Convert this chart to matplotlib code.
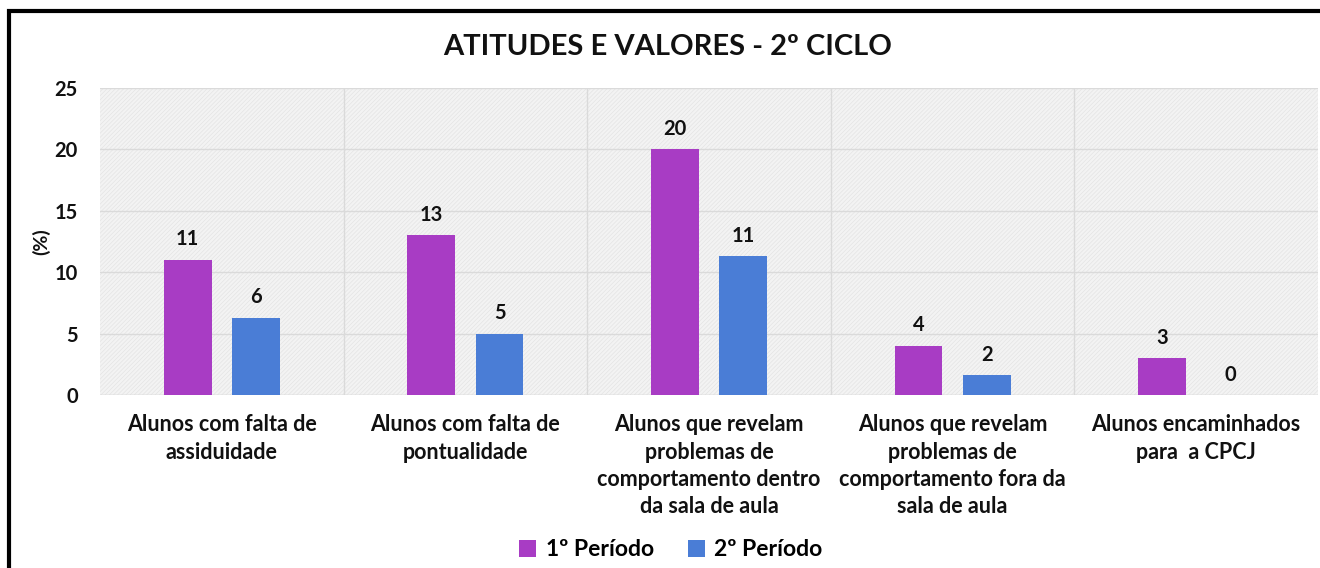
import matplotlib
matplotlib.use("Agg")
import matplotlib.pyplot as plt
from matplotlib.patches import Rectangle
import numpy as np

categories = [
    "Alunos com falta de\nassiduidade",
    "Alunos com falta de\npontualidade",
    "Alunos que revelam\nproblemas de\ncomportamento dentro\nda sala de aula",
    "Alunos que revelam\nproblemas de\ncomportamento fora da\nsala de aula",
    "Alunos encaminhados\npara  a CPCJ",
]
periodo1 = [11, 13, 20, 4, 3]
periodo2 = [6.3, 5, 11.3, 1.6, 0]
labels1 = ["11", "13", "20", "4", "3"]
labels2 = ["6", "5", "11", "2", "0"]
series_names = ["1º Período", "2º Período"]
yticks = [0, 5, 10, 15, 20, 25]

c1 = "#A83CC4"
c2 = "#4A7DD6"
FONT = "Lato"
TXT = "#111111"

plt.rcParams['font.family'] = [FONT, 'DejaVu Sans']
plt.rcParams['hatch.linewidth'] = 0.5
fig = plt.figure(figsize=(13.2, 5.68), dpi=100)
ax = fig.add_axes([100/1320, 1-395/568, (1318-100)/1320, (395-88)/568])

# figure border
fig.patches.append(Rectangle((9/1320, -0.05), 1.2, 1-11/568+0.05, transform=fig.transFigure,
                             fill=False, edgecolor="black", linewidth=3, zorder=10))

ax.set_facecolor("#F3F3F3")
ax.add_patch(Rectangle((0, 0), 1, 1, transform=ax.transAxes, facecolor="none",
                       edgecolor="#E4E4E4", hatch="////////", linewidth=0, zorder=0))

x = np.arange(len(categories))
off = 0.14
w = 0.197
b1 = ax.bar(x - off, periodo1, w, color=c1, label=series_names[0], zorder=3)
b2 = ax.bar(x + off, periodo2, w, color=c2, label=series_names[1], zorder=3)
for bars, labs in ((b1, labels1), (b2, labels2)):
    for rect, lab in zip(bars, labs):
        ax.text(rect.get_x() + rect.get_width()/2, rect.get_height() + 0.85, lab,
                ha="center", va="bottom", fontsize=14.5, fontweight="bold", color=TXT)

ax.set_xlim(-0.5, len(categories) - 0.5)
ax.set_ylim(0, 25)
ax.set_yticks(yticks)
ax.set_yticklabels([str(t) for t in yticks], fontsize=14.5, fontweight="bold", color=TXT)
ax.set_xticks(x)
ax.set_xticklabels(categories, fontsize=15.5, fontweight="bold", linespacing=1.36, color=TXT)
ax.tick_params(axis="both", length=0)
ax.tick_params(axis="y", pad=16)
ax.tick_params(axis="x", pad=14)

ax.grid(axis="y", color="#DADADA", linewidth=1, zorder=1)
for xv in np.arange(0.5, len(categories) - 0.5, 1):
    ax.axvline(xv, color="#DADADA", linewidth=1, zorder=1)
for s in ax.spines.values():
    s.set_visible(False)
ax.axhline(0, color="#D9D9D9", linewidth=1, zorder=2)

ax.set_ylabel("(%)", fontsize=14, fontweight="bold", color=TXT)
ax.yaxis.set_label_coords(-50/1218, 0.5)

fig.text(668/1320, 1-47/568, "ATITUDES E VALORES - 2º CICLO", ha="center", va="center",
         fontsize=21, fontweight="bold", color=TXT)

fig.legend(handles=[b1, b2], labels=series_names, loc="center", bbox_to_anchor=(671/1320, 1-550/568),
           ncol=2, frameon=False, handlelength=0.75, handleheight=0.75,
           columnspacing=1.5, handletextpad=0.4, prop={"weight": "bold", "size": 16.5})

fig.savefig("out.png", dpi=100)
